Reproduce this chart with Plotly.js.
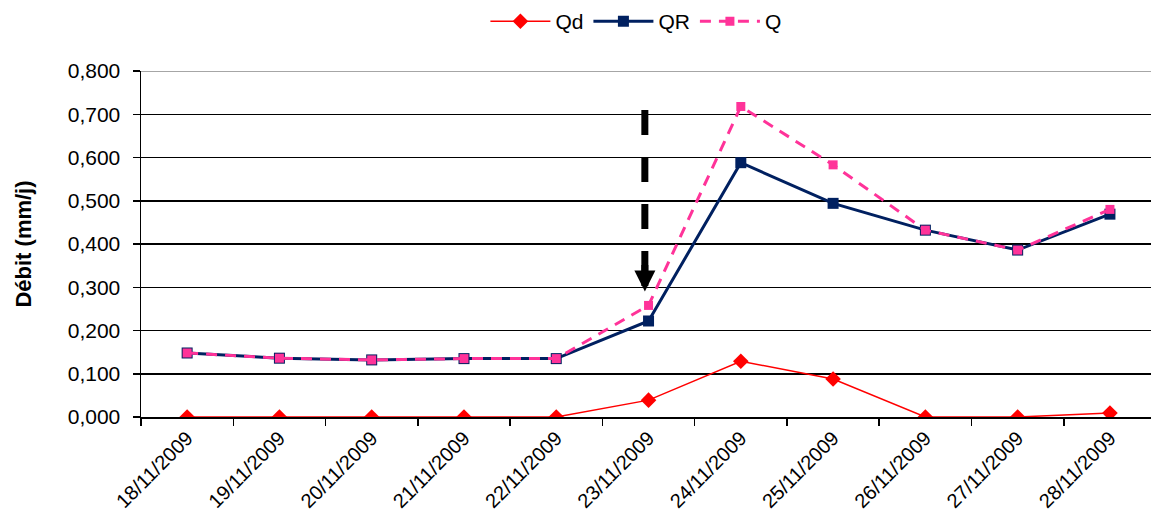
<!DOCTYPE html>
<html>
<head>
<meta charset="utf-8">
<script src="https://cdn.plot.ly/plotly-3.0.1.min.js"></script>
<style>html,body{margin:0;padding:0;background:#fff;}#chart{width:1151px;height:532px;}</style>
</head>
<body>
<div id="chart"></div>
<script>
const dates = ["18/11/2009","19/11/2009","20/11/2009","21/11/2009","22/11/2009","23/11/2009","24/11/2009","25/11/2009","26/11/2009","27/11/2009","28/11/2009"];
const qd = [0, 0, 0, 0, 0, 0.039, 0.129, 0.088, 0, 0, 0.009];
const qr = [0.148, 0.136, 0.132, 0.135, 0.135, 0.222, 0.588, 0.494, 0.432, 0.386, 0.469];
const q  = [0.148, 0.136, 0.132, 0.135, 0.135, 0.258, 0.718, 0.583, 0.432, 0.386, 0.480];

const font = "Liberation Sans, Arial, sans-serif";
const traces = [
  {x: dates, y: qd, name: "Qd", type: "scatter", mode: "lines+markers",
   line: {color: "#FF0000", width: 1.5},
   marker: {symbol: "diamond", size: 12, color: "#FF0000"}},
  {x: dates, y: qr, name: "QR", type: "scatter", mode: "lines+markers",
   line: {color: "#002060", width: 3},
   marker: {symbol: "square", size: 11, color: "#002060"}},
  {x: dates, y: q, name: "Q", type: "scatter", mode: "lines+markers",
   line: {color: "#FF3399", width: 3, dash: "11px,8px"},
   marker: {symbol: "square", size: 9, color: "#FF3399"}}
];
const layout = {
  width: 1151, height: 532,
  margin: {l: 141, r: 0, t: 71, b: 115},
  paper_bgcolor: "#fff", plot_bgcolor: "#fff",
  separators: ", ",
  font: {family: font, color: "#000", size: 20},
  showlegend: true,
  legend: {orientation: "h", x: 0.49, xanchor: "center", xref: "paper",
           y: 0.998, yref: "container", yanchor: "top",
           font: {size: 21, family: font}, itemwidth: 60},
  xaxis: {type: "category", range: [-0.5, 10.445], tickangle: -45,
          tickson: "boundaries", ticks: "outside", ticklen: 7, tickwidth: 1.5, tickcolor: "#000",
          showline: true, linecolor: "#000", linewidth: 1.5, showgrid: false,
          tickfont: {size: 20, family: font}, fixedrange: true},
  yaxis: {range: [0, 0.8], dtick: 0.1, tick0: 0, tickformat: ".3f",
          ticks: "outside", ticklen: 7, tickwidth: 1.5, tickcolor: "#000",
          ticklabelstandoff: 8,
          showline: true, linecolor: "#000", linewidth: 1.5,
          showgrid: true, gridcolor: "#000", gridwidth: 1.5, zeroline: false,
          tickfont: {size: 21, family: font},
          title: {text: "<b>Débit (mm/j)</b>", font: {size: 22, family: font}, standoff: 30}},
  shapes: [
    {type: "line", xref: "x", yref: "y", x0: 4.96, x1: 4.96, y0: 0.71, y1: 0.335,
     line: {color: "#000", width: 7, dash: "25px,22px"}},
    {type: "line", xref: "paper", yref: "y", x0: 0, x1: 1, y0: 0.8, y1: 0.8,
     line: {color: "#888", width: 1.5}}
  ],
  annotations: [
    {x: 4.96, y: 0.29, xref: "x", yref: "y", text: "", showarrow: true,
     arrowhead: 2, arrowsize: 0.6, arrowwidth: 7, arrowcolor: "#000", ax: 0, ay: -28}
  ]
};
Plotly.newPlot("chart", traces, layout, {displayModeBar: false, staticPlot: true});
</script>
</body>
</html>
